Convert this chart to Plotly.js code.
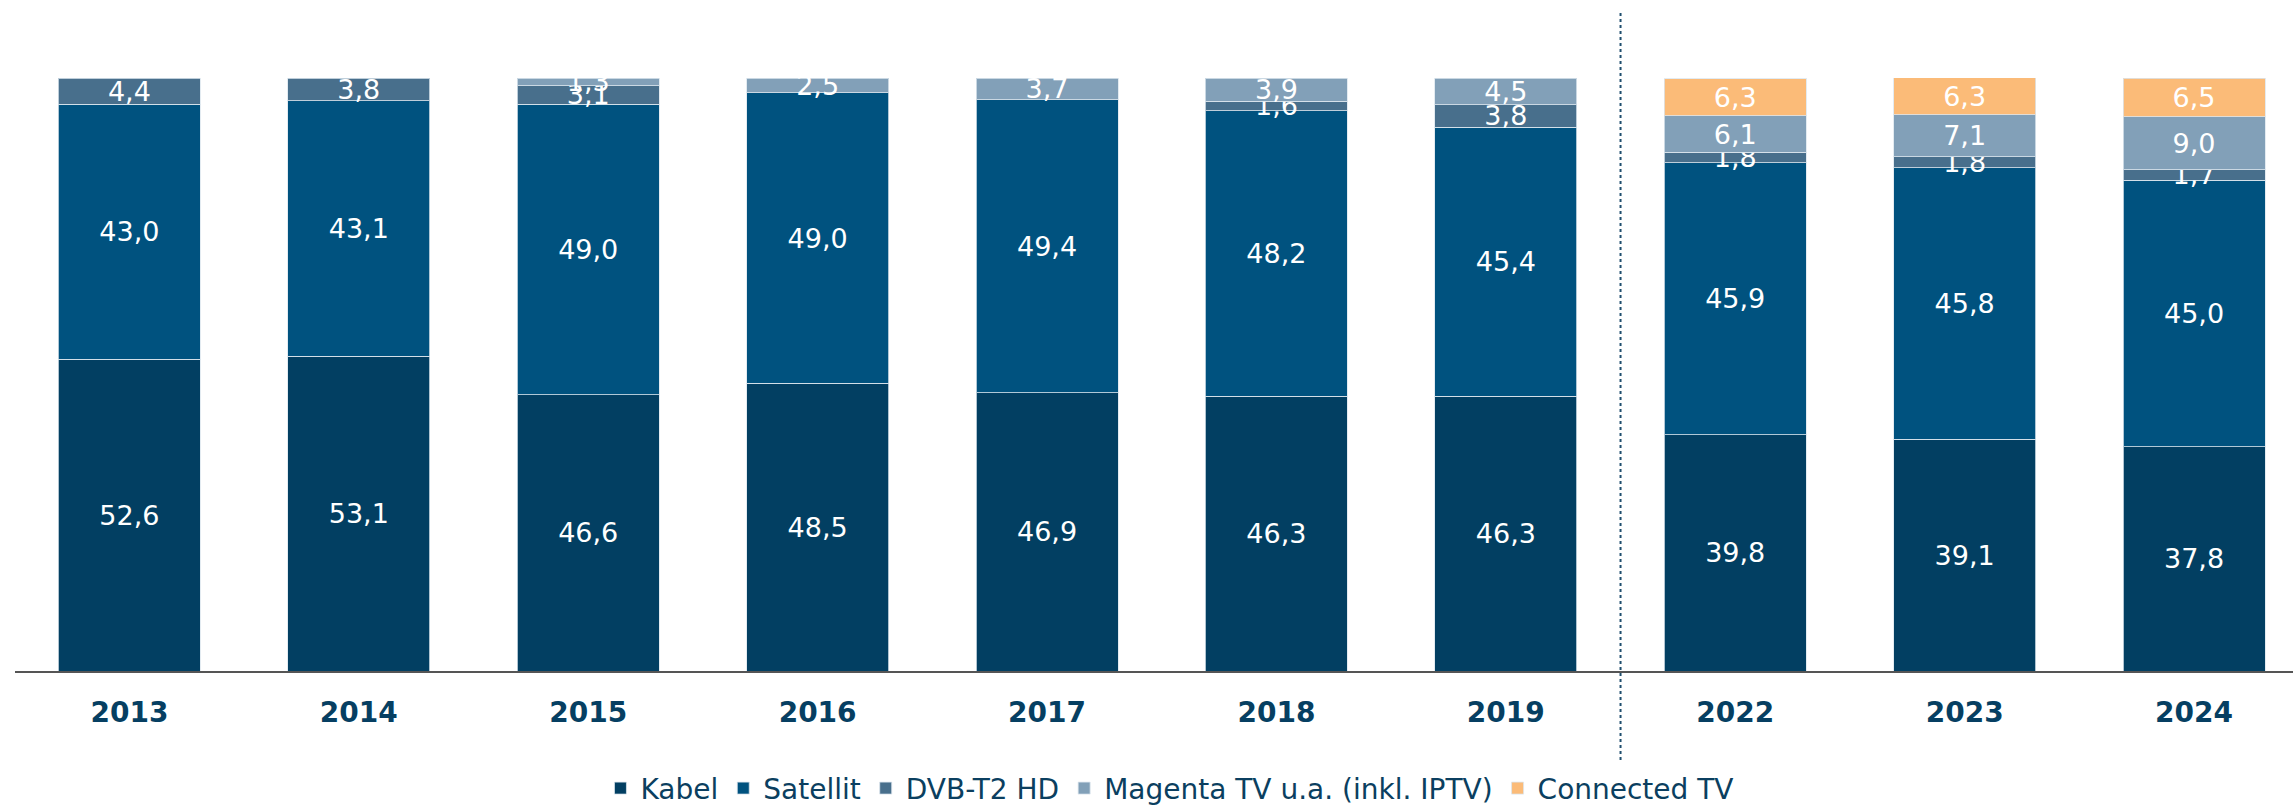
<!DOCTYPE html>
<html>
<head>
<meta charset="utf-8">
<script src="https://cdn.plot.ly/plotly-3.0.1.min.js"></script>
<style>
html,body{margin:0;padding:0;background:#fff;}
#chart{width:2293px;height:807px;}
</style>
</head>
<body>
<div id="chart"></div>
<script>
var years = ["2013","2014","2015","2016","2017","2018","2019","2022","2023","2024"];
var kabel     = [52.6, 53.1, 46.6, 48.5, 46.9, 46.3, 46.3, 39.8, 39.1, 37.8];
var satellit  = [43.0, 43.1, 49.0, 49.0, 49.4, 48.2, 45.4, 45.9, 45.8, 45.0];
var dvbt2     = [4.4, 3.8, 3.1, null, null, 1.6, 3.8, 1.8, 1.8, 1.7];
var magenta   = [null, null, 1.3, 2.5, 3.7, 3.9, 4.5, 6.1, 7.1, 9.0];
var connected = [null, null, null, null, null, null, null, 6.3, 6.3, 6.5];

var seriesNames = ["Kabel","Satellit","DVB-T2 HD","Magenta TV u.a. (inkl. IPTV)","Connected TV"];
var seriesValues = [kabel, satellit, dvbt2, magenta, connected];
var seriesColors = ["#023f62","#00527f","#486f8c","#82a0b8","#fbbb78"];

var xRange = [-0.4987, 9.4313];
var dividerPos = 6.5;

var traces = seriesNames.map(function(n, i){
  return {
    type: "bar",
    name: n,
    x: years,
    y: seriesValues[i],
    marker: {color: seriesColors[i], line: {color: "rgba(220,230,238,0.8)", width: 1}},
    text: seriesValues[i].map(function(v){ return v === null ? "" : v.toFixed(1).replace(".", ","); }),
    textposition: "inside",
    insidetextanchor: "middle",
    textangle: 0,
    constraintext: "none",
    textfont: {family: "DejaVu Sans, Verdana, sans-serif", size: 27, color: "#ffffff"},
    hoverinfo: "skip"
  };
});

var layout = {
  width: 2293,
  height: 807,
  margin: {l: 15, r: 0, t: 77.5, b: 136, autoexpand: false},
  paper_bgcolor: "#ffffff",
  plot_bgcolor: "#ffffff",
  barmode: "stack",
  bargap: 0.381,
  showlegend: true,
  legend: {
    orientation: "h",
    x: 0.507, xanchor: "center",
    y: -0.198, yanchor: "middle",
    font: {family: "DejaVu Sans, Verdana, sans-serif", size: 28, color: "#0b3f60"},
    traceorder: "normal"
  },
  xaxis: {
    type: "category",
    range: xRange,
    showgrid: false,
    zeroline: false,
    showline: true,
    linecolor: "#555555",
    linewidth: 2,
    ticks: "",
    ticklabelstandoff: 15,
    tickfont: {family: "DejaVu Sans, Verdana, sans-serif", size: 28, color: "#063f62", weight: "bold"},
    fixedrange: true
  },
  yaxis: {
    range: [0, 100],
    visible: false,
    showgrid: false,
    zeroline: false,
    fixedrange: true
  },
  shapes: [{
    type: "line",
    xref: "paper", yref: "paper",
    x0: (dividerPos - xRange[0]) / (xRange[1] - xRange[0]),
    x1: (dividerPos - xRange[0]) / (xRange[1] - xRange[0]),
    y0: -0.15, y1: 1.11,
    line: {color: "#1f4e6e", width: 2, dash: "dot"}
  }]
};

Plotly.newPlot("chart", traces, layout, {displayModeBar: false, staticPlot: true});
</script>
</body>
</html>
